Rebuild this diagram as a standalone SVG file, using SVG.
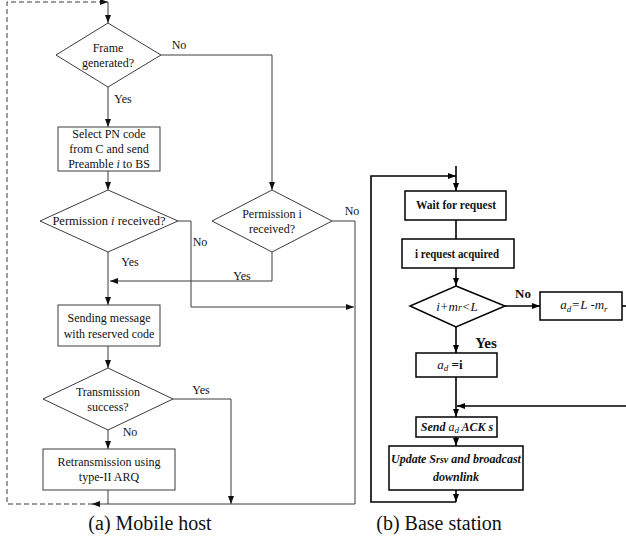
<svg xmlns="http://www.w3.org/2000/svg" width="626" height="540" viewBox="0 0 626 540" font-family="'Liberation Serif', 'Times New Roman', serif">
<style>
.l{fill:none;stroke:#3c3c3c;stroke-width:1}
.d{fill:none;stroke:#3c3c3c;stroke-width:1;stroke-dasharray:5,3}
.r{fill:none;stroke:#000;stroke-width:1.6}
.sl{fill:#fff;stroke:#3c3c3c;stroke-width:1}
.sr{fill:#fff;stroke:#000;stroke-width:1.5}
text{font-family:'Liberation Serif','Times New Roman',serif;fill:#111}
.t{font-size:12px;text-anchor:middle}
.tb{font-size:13.5px;text-anchor:middle;font-weight:bold}
.cap{font-size:20px;text-anchor:middle}
</style>
<defs>
<marker id="a" markerUnits="userSpaceOnUse" markerWidth="8" markerHeight="6" refX="8" refY="3" orient="auto"><path d="M0,0 L8,3 L0,6 z" fill="#111"/></marker>
<marker id="b" markerUnits="userSpaceOnUse" markerWidth="8" markerHeight="6" refX="8" refY="3" orient="auto"><path d="M0,0 L8,3 L0,6 z" fill="#000"/></marker>
</defs>

<g id="connectors">
<path class="d" d="M93,504 H7 V2 H100"/>
<path class="l" d="M100,2 H108" marker-end="url(#a)"/>
<path class="l" d="M108,2 V23" marker-end="url(#a)"/>
<path class="l" d="M161,55 H272 V190" marker-end="url(#a)"/>
<path class="l" d="M108,87 V127" marker-end="url(#a)"/>
<path class="l" d="M108,171 V190" marker-end="url(#a)"/>
<path class="l" d="M178,221 H191 V307 H354" marker-end="url(#a)"/>
<path class="l" d="M272,252 V281 H110" marker-end="url(#a)"/>
<path class="l" d="M108,252 V305" marker-end="url(#a)"/>
<path class="l" d="M332,221 H355 V504"/>
<path class="l" d="M108,346 V368" marker-end="url(#a)"/>
<path class="l" d="M173,399 H231 V504" marker-end="url(#a)"/>
<path class="l" d="M108,430 V449" marker-end="url(#a)"/>
<path class="l" d="M108,490 V504"/>
<path class="l" d="M355,504 H92" marker-end="url(#a)"/>
<path class="r" d="M456,166 V191" marker-end="url(#b)"/>
<path class="r" d="M456,502 H371 V176 H456" marker-end="url(#b)"/>
<path class="r" d="M456,220 V239"/>
<path class="r" d="M456,268 V286" marker-end="url(#b)"/>
<path class="r" d="M505,306 H540" marker-end="url(#b)"/>
<path class="r" d="M622,306 H626"/>
<path class="r" d="M456,327 V353" marker-end="url(#b)"/>
<path class="r" d="M456,377 V417" marker-end="url(#b)"/>
<path class="r" d="M626,406 H457" marker-end="url(#b)"/>
<path class="r" d="M456,437 V446" marker-end="url(#b)"/>
<path class="r" d="M456,490 V502" marker-end="url(#b)"/>
</g>

<g id="labels">
<text class="t" x="179" y="49">No</text>
<text class="t" x="123" y="103">Yes</text>
<text class="t" x="200" y="246">No</text>
<text class="t" x="130" y="266">Yes</text>
<text class="t" x="242" y="280">Yes</text>
<text class="t" x="352" y="215">No</text>
<text class="t" x="201" y="394">Yes</text>
<text class="t" x="130" y="436">No</text>
<text class="tb" x="523" y="298" style="font-size:13px">No</text>
<text class="tb" x="486" y="348" style="font-size:15px">Yes</text>
</g>

<g id="n1"><path class="sl" d="M108,23 L161,55 L108,87 L56,55 Z"/>
<text class="t" x="108" y="52">Frame</text><text class="t" x="108" y="67">generated?</text></g>

<g id="n2"><rect class="sl" x="58" y="127" width="102" height="44"/>
<text class="t" x="109" y="138">Select PN code</text>
<text class="t" x="109" y="153">from C and send</text>
<text class="t" x="109" y="168">Preamble <tspan font-style="italic">i</tspan> to BS</text></g>

<g id="n3"><path class="sl" d="M108,190 L178,221 L108,252 L40,221 Z"/>
<text class="t" x="109" y="225" style="font-size:12.5px">Permission <tspan font-style="italic">i</tspan> received?</text></g>

<g id="n4"><path class="sl" d="M272,190 L332,221 L272,252 L212,221 Z"/>
<text class="t" x="272" y="218">Permission i</text><text class="t" x="272" y="233">received?</text></g>

<g id="n5"><rect class="sl" x="58" y="305" width="102" height="41"/>
<text class="t" x="109" y="322">Sending message</text><text class="t" x="109" y="338">with reserved code</text></g>

<g id="n6"><path class="sl" d="M108,368 L173,399 L108,430 L43,399 Z"/>
<text class="t" x="108" y="396">Transmission</text><text class="t" x="108" y="411">success?</text></g>

<g id="n7"><rect class="sl" x="43" y="449" width="132" height="41"/>
<text class="t" x="109" y="466">Retransmission using</text><text class="t" x="109" y="481">type-II ARQ</text></g>

<g id="n8"><rect class="sr" x="405" y="191" width="101" height="29"/>
<text class="tb" x="456" y="209" textLength="80" lengthAdjust="spacingAndGlyphs">Wait for request</text></g>

<g id="n9"><rect class="sr" x="402" y="239" width="112" height="29"/>
<text class="tb" x="457" y="258" textLength="84" lengthAdjust="spacingAndGlyphs">i request acquired</text></g>

<g id="n10"><path class="sr" d="M456,286 L505,306 L456,327 L410,306 Z"/>
<text class="t" x="457" y="311" font-style="italic" style="font-size:13px">i+m<tspan font-size="10">r</tspan>&lt;L</text></g>

<g id="n11"><rect class="sr" x="540" y="292" width="82" height="28"/>
<text class="t" x="584" y="309" font-style="italic" style="font-size:13px">a<tspan font-size="9" dy="3">d</tspan><tspan dy="-3">=L -m</tspan><tspan font-size="9" dy="3">r</tspan></text></g>

<g id="n12"><rect class="sr" x="416" y="353" width="81" height="24"/>
<text class="t" x="450" y="369" style="font-size:13px"><tspan font-style="italic">a</tspan><tspan font-style="italic" font-size="9" dy="2">d</tspan><tspan dy="-2" font-weight="bold"> =i</tspan></text></g>

<g id="n13"><rect class="sr" x="416" y="417" width="81" height="20"/>
<text class="tb" x="457" y="431" font-style="italic" style="font-size:12px">Send <tspan font-weight="normal">a</tspan><tspan font-weight="normal" font-size="9" dy="2">d</tspan><tspan dy="-2"> ACK s</tspan></text></g>

<g id="n14"><rect class="sr" x="389" y="446" width="134" height="44"/>
<text class="tb" x="456" y="463" font-style="italic" style="font-size:12px">Update S<tspan font-size="10">rsv</tspan> and broadcast</text>
<text class="tb" x="456" y="481" font-style="italic" style="font-size:12px">downlink</text></g>

<g id="captions">
<text class="cap" x="150" y="530">(a) Mobile host</text>
<text class="cap" x="439" y="530">(b) Base station</text>
</g>
</svg>
